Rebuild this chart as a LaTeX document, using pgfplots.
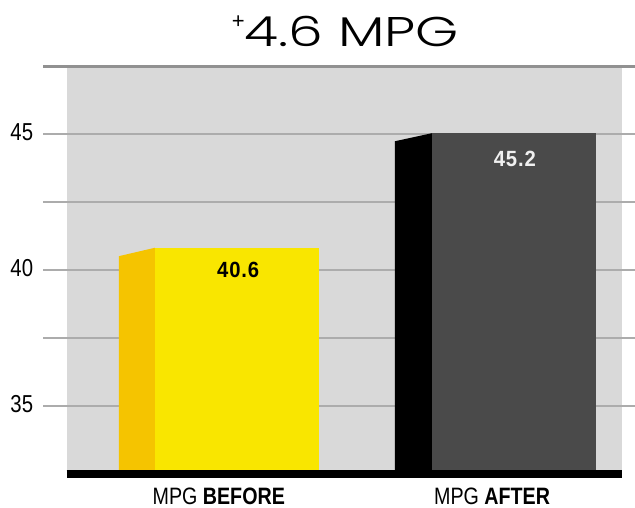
\documentclass[border=0pt]{standalone}
\usepackage{pgfplots}
\pgfplotsset{compat=1.18}
\usepackage{fontspec}
\setmainfont{Liberation Sans}
\newfontfamily\condfont[FakeStretch=0.83]{Liberation Sans}
\newfontfamily\valuefont[FakeStretch=0.92, LetterSpace=4]{Liberation Sans}
\newfontfamily\titlefont[FakeStretch=1.33]{Poppins Light}

\definecolor{panel}{RGB}{217,217,217}
\definecolor{gridgray}{RGB}{172,172,172}
\definecolor{topgray}{RGB}{145,145,145}
\definecolor{yellowfront}{RGB}{249,230,0}
\definecolor{yellowside}{RGB}{245,196,0}
\definecolor{darkfront}{RGB}{74,74,74}

\begin{document}
\begin{tikzpicture}
\path[use as bounding box] (0,0) rectangle (635pt,-508pt);

\begin{axis}[
    at={(66.7pt,-474.1pt)}, anchor=south west,
    scale only axis,
    width=555pt, height=407.6pt,
    xmin=0, xmax=2,
    ymin=32.5, ymax=47.5,
    clip=false,
    axis line style={draw=none},
    axis background/.style={fill=panel},
    major tick length=0pt,
    tick style={draw=none},
    xtick={0.548,1.533},
    xticklabels={MPG \textbf{BEFORE}, MPG \textbf{AFTER}},
    xticklabel style={anchor=base, inner sep=0pt, yshift=-29.9pt,
        font=\condfont\fontsize{23.7}{24}\selectfont},
    ytick={35,40,45},
    yticklabel style={anchor=east, inner sep=0pt, xshift=-33.4pt, yshift=2pt,
        font=\condfont\fontsize{24.5}{25}\selectfont},
    /pgf/number format/assume math mode=true,
]
% grid lines, running past the panel on both sides
\draw[gridgray, line width=2pt] (axis cs:-0.0854,35)   -- (axis cs:2.048,35);
\draw[gridgray, line width=2pt] (axis cs:-0.0854,37.5) -- (axis cs:2.048,37.5);
\draw[gridgray, line width=2pt] (axis cs:-0.0854,40)   -- (axis cs:2.048,40);
\draw[gridgray, line width=2pt] (axis cs:-0.0854,42.5) -- (axis cs:2.048,42.5);
\draw[gridgray, line width=2pt] (axis cs:-0.0854,45)   -- (axis cs:2.048,45);
\draw[topgray, line width=2.2pt] (axis cs:-0.0854,47.5) -- (axis cs:2.048,47.5);

% MPG before
\addplot[fill=yellowside, draw=none] coordinates {
    (0.188,32.5) (0.188,40.52) (0.318,40.83) (0.318,32.5)} -- cycle;
\addplot[fill=yellowfront, draw=none] coordinates {
    (0.318,32.5) (0.318,40.83) (0.910,40.83) (0.910,32.5)} -- cycle;

% MPG after
\addplot[fill=black, draw=none] coordinates {
    (1.183,32.5) (1.183,44.75) (1.318,45.05) (1.318,32.5)} -- cycle;
\addplot[fill=darkfront, draw=none] coordinates {
    (1.318,32.5) (1.318,45.05) (1.909,45.05) (1.909,32.5)} -- cycle;

% base
\draw[black, line width=7.7pt] (axis cs:0,32.5) -- (axis cs:2,32.5);

\node[font=\valuefont\bfseries\fontsize{22}{22}\selectfont, inner sep=0pt]
    at (axis cs:0.618,40.0) {40.6};
\node[font=\valuefont\bfseries\fontsize{22}{22}\selectfont, inner sep=0pt, text=white!94!black]
    at (axis cs:1.615,44.09) {45.2};
\end{axis}

\node[font=\titlefont\fontsize{41.5}{42}\selectfont, anchor=base, inner sep=0pt]
    at (351.7pt,-46.7pt) {4.6 MPG};
\node[font=\fontsize{22}{22}\selectfont, inner sep=0pt]
    at (238.3pt,-22.5pt) {+};
\end{tikzpicture}
\end{document}
